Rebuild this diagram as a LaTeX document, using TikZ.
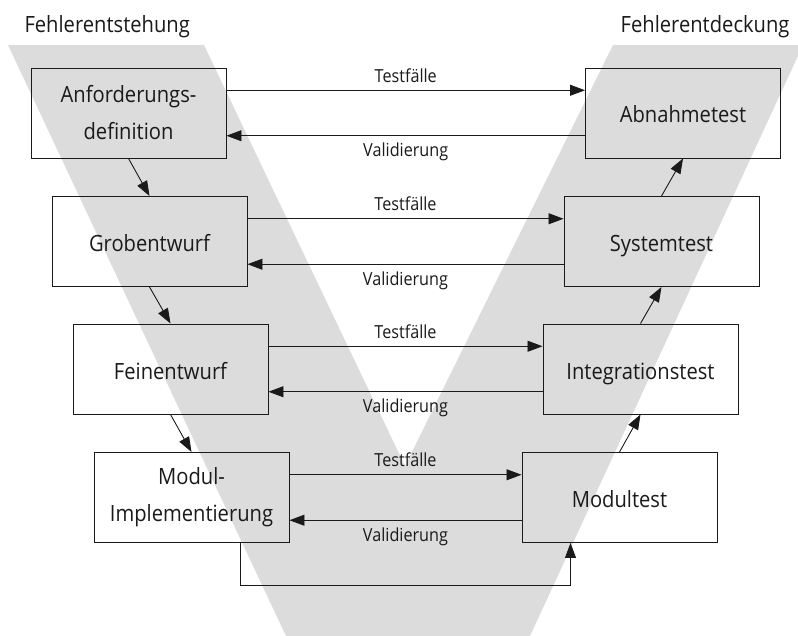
\documentclass[tikz,border=0pt]{standalone}
\usepackage{fontspec}
\setmainfont{Open Sans}[FakeStretch=0.9]
\usetikzlibrary{arrows.meta,calc}
\definecolor{vband}{RGB}{220,220,220}
\definecolor{ink}{RGB}{26,26,26}

\begin{document}
\begin{tikzpicture}[x=1pt,y=-1pt,
  stage/.style={draw=ink, line width=0.95pt, minimum width=195pt, minimum height=90pt,
    inner sep=0pt, align=center, text=ink, font=\fontsize{22.4}{37}\selectfont},
  oneline/.style={text height=20pt, text depth=0pt},
  flow/.style={draw=ink, line width=0.9pt, -{Triangle[length=15pt,width=11pt]}},
  tag/.style={anchor=base, text=ink, font=\fontsize{18}{22}\selectfont},
  head/.style={text=ink, font=\fontsize{22.4}{27}\selectfont}]

\useasboundingbox (0,0) rectangle (798,636);

% the grey V in the background
\begin{scope}
  \clip (0,0) rectangle (798,636);
  \fill[vband] (8,45) -- (204,45) -- (405,466) -- (613,45) -- (803,45)
    -- (530,636) -- (286,636) -- cycle;
\end{scope}

% column headings
\node[head, anchor=base west] (hl) at (21,33) {Fehlerentstehung};
\node[head, anchor=base east] (hr) at (793,33) {Fehlerentdeckung};

% development phases (left) and test phases (right)
\node[stage] (req)  at (128.5,113)   {Anforderungs-\\definition};
\node[stage, oneline] (arch) at (149.5,241.5) {Grobentwurf};
\node[stage, oneline] (des)  at (170.5,369)   {Feinentwurf};
\node[stage] (impl) at (191.5,497.5) {Modul-\\Implementierung};

\node[stage, oneline] (acc) at (683,113)     {Abnahmetest};
\node[stage, oneline] (sys) at (661.5,241.5) {Systemtest};
\node[stage, oneline] (int) at (640.5,369)   {Integrationstest};
\node[stage, oneline] (mod) at (619.5,497.5) {Modultest};

% refinement down the left side, integration up the right side
\draw[flow] (req.south)  -- (arch.north);
\draw[flow] (arch.south) -- (des.north);
\draw[flow] (des.south)  -- (impl.north);
\draw[flow] (mod.north) -- (int.south);
\draw[flow] (int.north) -- (sys.south);
\draw[flow] (sys.north) -- (acc.south);

% test cases to the right, validation back to the left
\foreach \l/\r in {req/acc, arch/sys, des/int, impl/mod} {
  \path (\l.north east) -- (\l.south east)
    coordinate[pos=0.25] (\l-tc) coordinate[pos=0.75] (\l-va);
  \coordinate (\r-tc) at (\l-tc -| \r.west);
  \coordinate (\r-va) at (\l-va -| \r.west);
  \draw[flow] (\l-tc) -- (\r-tc);
  \draw[flow] (\r-va) -- (\l-va);
  \node[tag] (\l-tl) at ($(\l-tc)!0.5!(\r-tc)+(0,-8)$) {Testfälle};
  \node[tag] (\l-vl) at ($(\l-va)!0.5!(\r-va)+(0,21)$) {Validierung};
}

% implementation handed straight to the module test
\coordinate (ib) at ($(impl.south west)!0.75!(impl.south east)$);
\coordinate (mb) at ($(mod.south west)!0.25!(mod.south east)$);
\draw[flow] (ib) -- ++(0,42) -| (mb);
\end{tikzpicture}
\end{document}
